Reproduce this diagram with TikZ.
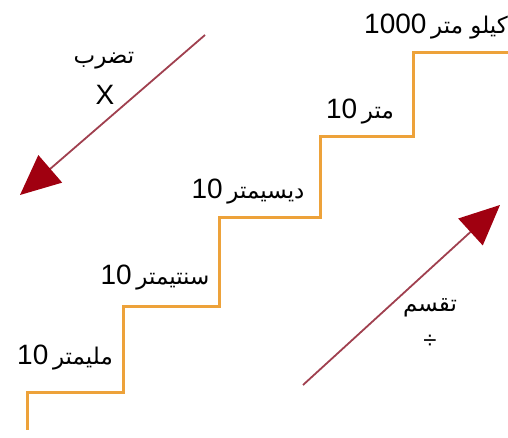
\documentclass[tikz,border=0pt]{standalone}
\usepackage{fontspec}
\setmainfont{Liberation Sans}
\newfontfamily\arabicfont[Script=Arabic]{DejaVu Sans}
\TeXXeTstate=1
\usetikzlibrary{arrows.meta}
\definecolor{stairc}{HTML}{EDA23A}
\definecolor{arrline}{HTML}{A0404F}
\definecolor{arrhead}{HTML}{A00010}
\tikzset{
  stair/.style={draw=stairc, line width=3pt, line join=miter},
  bigarrow/.style={draw=arrline, line width=1.8pt, -{Triangle[length=40pt,width=36pt,color=arrhead]}},
  lbl/.style={inner sep=1pt, font=\fontsize{28}{31}\selectfont},
  albl/.style={inner sep=1pt, font=\fontsize{23}{26}\selectfont\arabicfont},
}
\newcommand\ar[1]{{\fontsize{23}{26}\arabicfont\beginR #1\endR}}
\begin{document}
\begin{tikzpicture}[x=1pt,y=1pt]
\useasboundingbox (0,0) rectangle (508,438);
\fill[white] (0,0) rectangle (508,438);
% staircase
\coordinate (s0) at (27,8);
\coordinate (s1) at (27,45);
\coordinate (s2) at (123,45);
\coordinate (s3) at (123,131);
\coordinate (s4) at (219,131);
\coordinate (s5) at (219,220);
\coordinate (s6) at (320,220);
\coordinate (s7) at (320,301);
\coordinate (s8) at (413,301);
\coordinate (s9) at (413,385);
\coordinate (s10) at (508,385);
\draw[stair] (s0) -- (s1) -- (s2) -- (s3) -- (s4) -- (s5) -- (s6) -- (s7) -- (s8) -- (s9) -- (s10);
% labels
\node[lbl] (l1) at (65,80) {10\,\ar{مليمتر}};
\node[lbl] (l2) at (155,160) {10\,\ar{سنتيمتر}};
\node[lbl] (l3) at (248,246) {10\,\ar{ديسيمتر}};
\node[lbl] (l4) at (360,326) {10\,\ar{متر}};
\node[lbl] (l5) at (436,411) {1000\,\ar{كيلو متر}};
% arrows
\coordinate (a1s) at (205,403);
\coordinate (a1e) at (20,243);
\draw[bigarrow] (a1s) -- (a1e);
\coordinate (a2s) at (303,53);
\coordinate (a2e) at (500,233);
\draw[bigarrow] (a2s) -- (a2e);
\node[albl] (mul) at (104,377) {\beginR تضرب\endR};
\node[lbl] (x) at (105,343) {X};
\node[albl] (div) at (430,130) {\beginR تقسم\endR};
\node[lbl] (dv) at (430,96) {\fontsize{24}{26}\selectfont ÷};
\end{tikzpicture}
\end{document}
